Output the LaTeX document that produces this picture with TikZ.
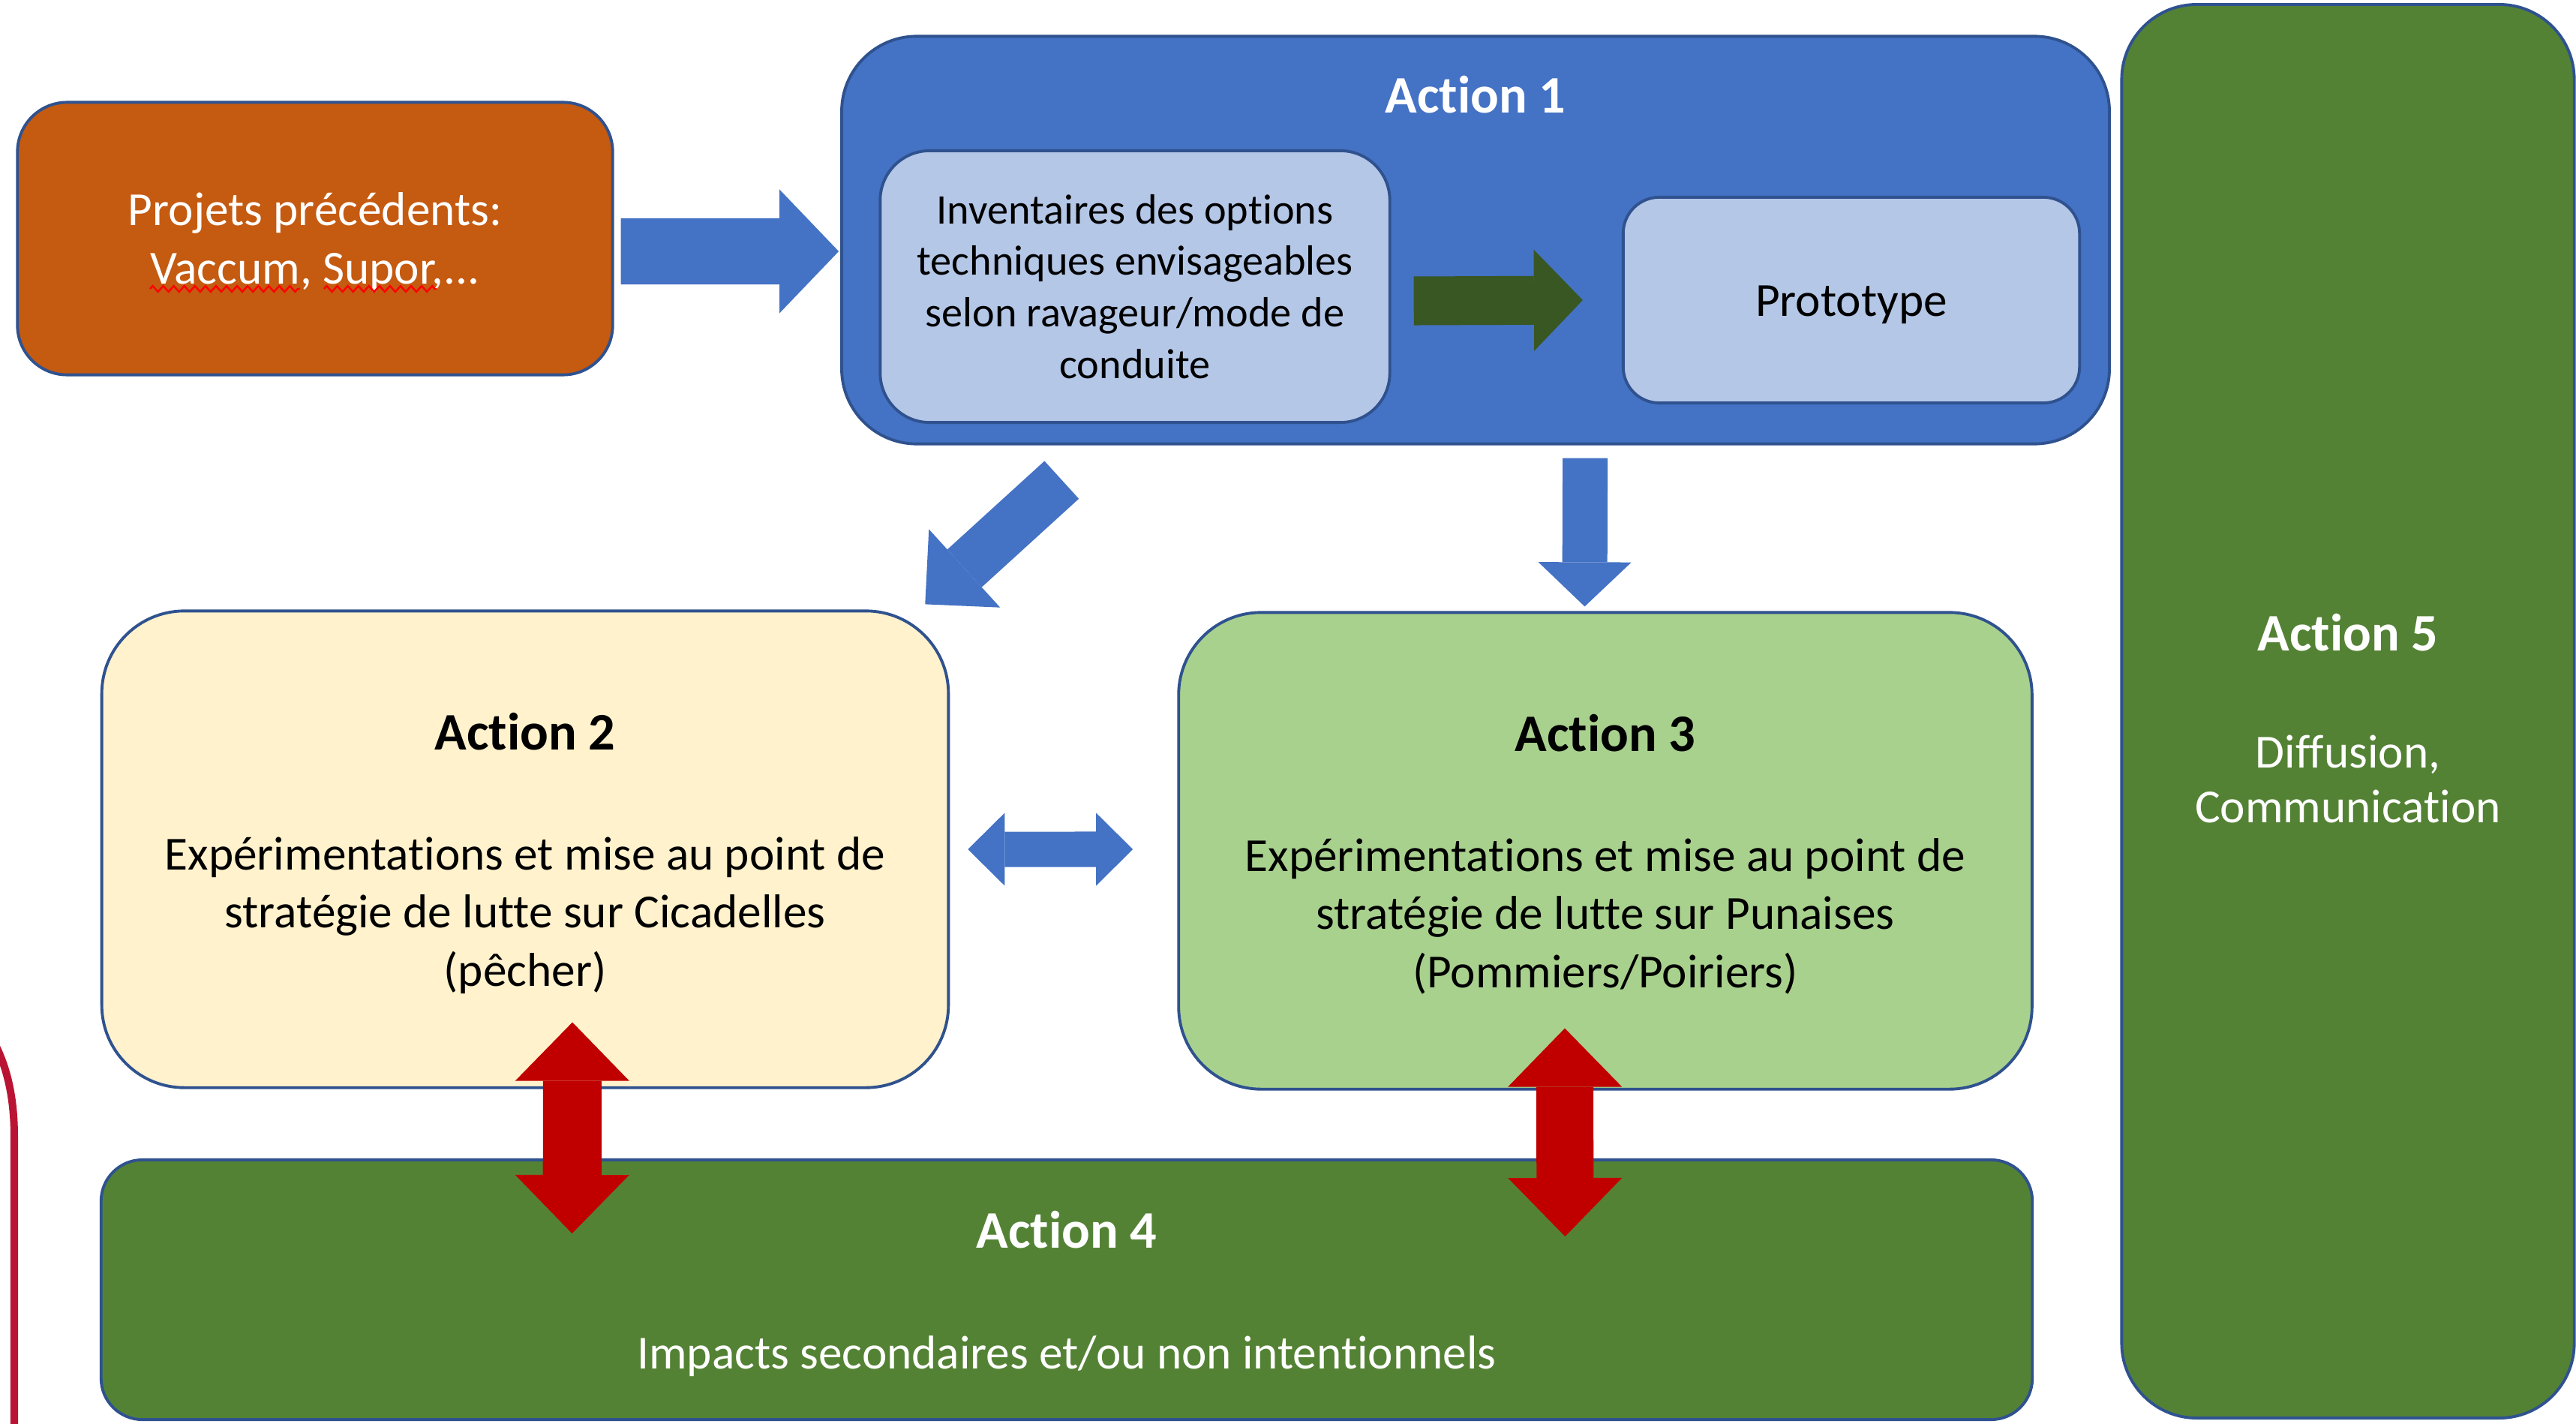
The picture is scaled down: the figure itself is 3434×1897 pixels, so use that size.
\documentclass[tikz,border=0pt]{standalone}
\usepackage{fontspec}
\setmainfont{Carlito}[Ligatures=NoCommon]
\usetikzlibrary{arrows.meta,positioning,decorations.pathmorphing}
\definecolor{actblue}{HTML}{4472C4}
\definecolor{edgeblue}{HTML}{2F528F}
\definecolor{paleblue}{HTML}{B4C7E7}
\definecolor{rust}{HTML}{C55A11}
\definecolor{cream}{HTML}{FFF2CC}
\definecolor{lightgreen}{HTML}{A9D18E}
\definecolor{leafgreen}{HTML}{548235}
\definecolor{darkgreen}{HTML}{385723}
\definecolor{arrowred}{HTML}{C00000}
\definecolor{crimson}{HTML}{BA1434}
% strut with the ascent/descent of the font, so lines sit as in the slide
\newcommand{\pstrut}{\rule[-0.269em]{0pt}{1.221em}}
\newcommand{\acttitle}[1]{{\fontsize{20}{24}\selectfont\bfseries\pstrut #1}}
\begin{document}
\begin{tikzpicture}[x=0.01cm,y=-0.01cm,
  box/.style={draw=edgeblue, line width=1.1pt, align=center, inner sep=0pt},
  body/.style={font=\fontsize{18}{22}\selectfont},
  small/.style={font=\fontsize{16}{19.5}\selectfont}]
\useasboundingbox (0,0) rectangle (3434,1897);
% left border of the next frame
\draw[crimson, line width=0.1cm] (-5,1395) .. controls (12,1430) and (19,1470) .. (19,1515) -- (19,1910);
% boxes
\node[box, fill=rust, rounded corners=0.66cm, minimum width=7.93cm, minimum height=3.63cm, text=white, body] (prev) at (420,318) {\pstrut Projets précédents:\\Vaccum, Supor,...\pstrut};
\node[box, fill=actblue, rounded corners=1.0cm, minimum width=16.89cm, minimum height=5.43cm] (act1) at (1967,320) {};
\node[text=white, inner sep=0pt, font=\fontsize{20}{24}\selectfont\bfseries] (act1t) at (1967,126) {\pstrut Action 1};
\node[box, fill=paleblue, rounded corners=0.66cm, minimum width=6.79cm, minimum height=3.62cm, small] (inv) at (1513,382) {\pstrut Inventaires des options\\techniques envisageables\\selon ravageur/mode de\\conduite\pstrut};
\node[box, fill=paleblue, rounded corners=0.48cm, minimum width=6.08cm, minimum height=2.74cm, body] (proto) at (2468,400) {\pstrut Prototype};
\node[box, fill=leafgreen, rounded corners=1.0cm, minimum width=6.03cm, minimum height=18.83cm, text=white, body] (act5) at (3130,948) {{\fontsize{20}{24}\selectfont\bfseries\rule[-0.269em]{0pt}{1.47em}Action 5}\\[22.5pt]Diffusion,\\[-1.4pt]Communication\pstrut};
\node[box, fill=cream, rounded corners=1.1cm, minimum width=11.28cm, minimum height=6.35cm, body] (act2) at (700,1132) {\acttitle{Action 2}\\[23.5pt]Expérimentations et mise au point de\\stratégie de lutte sur Cicadelles\\(pêcher)\pstrut};
\node[box, fill=lightgreen, rounded corners=1.1cm, minimum width=11.37cm, minimum height=6.35cm, body] (act3) at (2140,1134) {\acttitle{Action 3}\\[23.5pt]Expérimentations et mise au point de\\stratégie de lutte sur Punaises\\(Pommiers/Poiriers)\pstrut};
\node[box, fill=leafgreen, rounded corners=0.55cm, minimum width=25.73cm, minimum height=3.46cm, text=white, body] (act4) at (1422,1719) {\acttitle{Action 4}\\[22.5pt]Impacts secondaires et/ou non intentionnels\pstrut};
% spelling marks
\draw[red, line width=0.7pt, decorate, decoration={zigzag, segment length=4pt, amplitude=1.1pt}] (200,385) -- (400,385);
\draw[red, line width=0.7pt, decorate, decoration={zigzag, segment length=4pt, amplitude=1.1pt}] (432,385) -- (582,385);
% arrows
\draw[actblue, line width=0.88cm, -{Triangle[width=1.65cm,length=0.79cm,line width=0pt]}] ([xshift=0.09cm,yshift=-0.17cm]prev.east) -- ([xshift=-0.02cm,yshift=-0.15cm]act1.west);
\draw[darkgreen, line width=0.65cm, -{Triangle[width=1.35cm,length=0.65cm,line width=0pt]}] ([xshift=0.3cm,yshift=-0.19cm]inv.east) -- ([xshift=-0.52cm]proto.west);
\draw[actblue, line width=0.68cm, -{Triangle[width=1.41cm,length=0.71cm,line width=0pt]}] ([xshift=2.95cm,yshift=-0.46cm]act1.south west) -- ([xshift=-0.33cm,yshift=0.07cm]act2.north east);
\draw[actblue, line width=0.6cm, -{Triangle[width=1.24cm,length=0.59cm,line width=0pt]}] ([xshift=1.46cm,yshift=-0.17cm]act1.south) -- ([xshift=-0.275cm,yshift=0.06cm]act3.north);
\draw[actblue, line width=0.47cm, {Triangle[width=0.97cm,length=0.49cm,line width=0pt]}-{Triangle[width=0.97cm,length=0.49cm,line width=0pt]}] ([xshift=0.24cm]act2.east) -- ([xshift=-0.59cm,yshift=0.02cm]act3.west);
\draw[arrowred, line width=0.78cm, {Triangle[width=1.52cm,length=0.78cm,line width=0pt]}-{Triangle[width=1.52cm,length=0.78cm,line width=0pt]}] ([xshift=0.63cm,yshift=0.89cm]act2.south) -- ([xshift=-6.59cm,yshift=-1.0cm]act4.north);
\draw[arrowred, line width=0.76cm, {Triangle[width=1.52cm,length=0.78cm,line width=0pt]}-{Triangle[width=1.52cm,length=0.78cm,line width=0pt]}] ([xshift=-0.54cm,yshift=0.83cm]act3.south) -- ([xshift=6.64cm,yshift=-1.04cm]act4.north);
\end{tikzpicture}
\end{document}
